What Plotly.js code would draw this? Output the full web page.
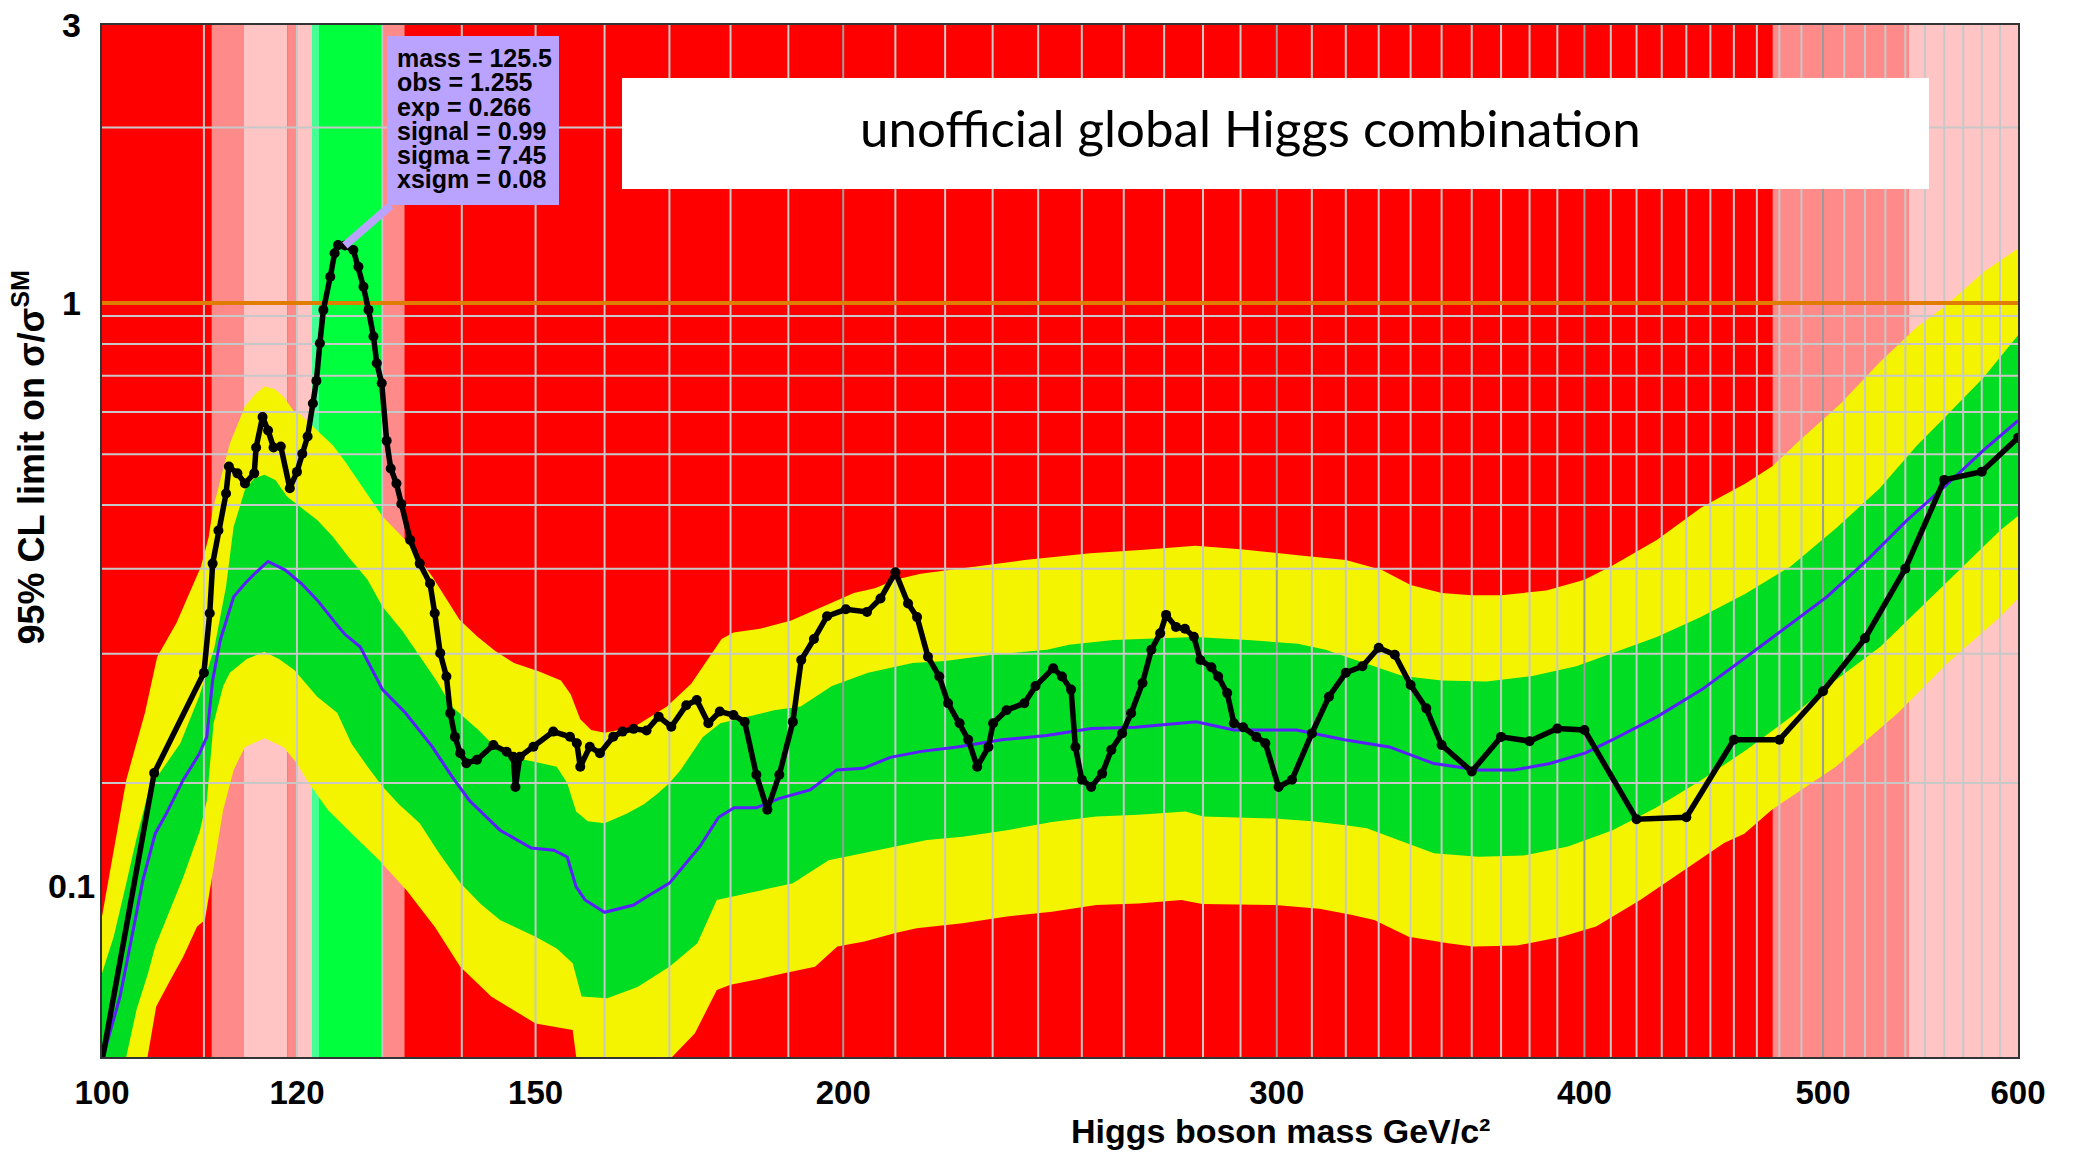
<!DOCTYPE html>
<html>
<head>
<meta charset="utf-8">
<script src="https://cdn.plot.ly/plotly-3.0.1.min.js"></script>
<style>
html,body{margin:0;padding:0;background:#ffffff;}
#chart{width:2074px;height:1152px;}
</style>
</head>
<body>
<div id="chart"></div>
<script>
// ---------------- DATA ----------------
// Observed 95% CL limit (black line with markers)
const obsMass = [100, 105, 110, 110.6, 110.9, 111.5, 112.3, 112.6, 113.5, 114.3, 115.3, 115.5, 116.2, 116.8, 117.4, 118.2, 119.2, 120, 120.6, 121.2, 121.8, 122.2, 122.6, 123, 123.8, 124.3, 124.7, 125.5, 126.5, 127.1, 127.7, 128.3, 128.9, 129.3, 129.9, 130.5, 131, 131.7, 132.3, 133.4, 134.6, 135.9, 136.5, 137.2, 138, 138.5, 139.1, 139.8, 140.6, 142, 144.2, 146, 146.9, 147.2, 147.8, 149.7, 152.5, 154.9, 155.9, 156.4, 157.8, 159.3, 161.3, 162.7, 164.4, 166.4, 168.3, 170.3, 172.7, 174.4, 176.3, 178.2, 180.5, 182.4, 184.4, 186.3, 188.4, 190.8, 192.3, 194.6, 197, 200.5, 204.5, 207.1, 210, 212.5, 214.3, 216.5, 218.8, 220.6, 223, 224.8, 226.7, 229.1, 230.1, 233, 236.9, 239.4, 243.4, 245.4, 247.5, 248.5, 250, 252.2, 254.8, 257, 259.6, 261.8, 264.6, 266.8, 269, 270.5, 273, 275.3, 277.6, 279.3, 282.2, 284, 286.4, 288.2, 290.7, 294.3, 296.8, 300.5, 304.3, 310, 315, 320, 325, 330, 335, 340, 345, 350, 360, 370, 380, 390, 400, 420, 440, 460, 480, 500, 520, 540, 560, 580, 600];
const obsVal = [0.05, 0.156, 0.232, 0.2935, 0.357, 0.407, 0.471, 0.524, 0.510, 0.490, 0.510, 0.565, 0.637, 0.604, 0.565, 0.567, 0.481, 0.513, 0.551, 0.590, 0.672, 0.735, 0.853, 0.973, 1.109, 1.217, 1.257, 1.255, 1.233, 1.154, 1.066, 0.973, 0.876, 0.788, 0.728, 0.58, 0.52, 0.49, 0.452, 0.392, 0.357, 0.330, 0.2935, 0.2506, 0.2285, 0.1977, 0.180, 0.1688, 0.1622, 0.1644, 0.1743, 0.1697, 0.1664, 0.1477, 0.1664, 0.1731, 0.1838, 0.1801, 0.1755, 0.160, 0.1731, 0.1688, 0.1801, 0.1838, 0.1858, 0.1846, 0.195, 0.1874, 0.204, 0.2083, 0.190, 0.199, 0.1962, 0.191, 0.155, 0.135, 0.155, 0.191, 0.244, 0.265, 0.29, 0.298, 0.295, 0.311, 0.345, 0.305, 0.289, 0.247, 0.2285, 0.2056, 0.190, 0.178, 0.160, 0.173, 0.190, 0.200, 0.2056, 0.220, 0.236, 0.2285, 0.217, 0.173, 0.152, 0.1477, 0.1557, 0.171, 0.1825, 0.1977, 0.2228, 0.254, 0.271, 0.2915, 0.278, 0.276, 0.2674, 0.244, 0.237, 0.2285, 0.214, 0.190, 0.187, 0.180, 0.1755, 0.1477, 0.152, 0.1825, 0.211, 0.232, 0.238, 0.256, 0.249, 0.221, 0.2015, 0.1743, 0.157, 0.180, 0.177, 0.186, 0.185, 0.130, 0.131, 0.178, 0.178, 0.2156, 0.2657, 0.350, 0.497, 0.5135, 0.587];

// Expected limit (blue line)
const expMass = [100, 101.7, 102.65, 103.3, 103.9, 105.1, 106.2, 107.9, 109.5, 110.3, 110.9, 111.7, 113.1, 114.3, 115.5, 116.8, 118.7, 120.5, 122.3, 124.6, 125.5, 127.3, 130, 132.8, 136.2, 138.7, 141, 145.1, 149.4, 152.6, 154.5, 155.8, 157.1, 160, 164.4, 166.5, 170, 174.9, 178, 180.6, 184.4, 188.3, 193.9, 198.8, 203.8, 209, 215.2, 222.5, 232, 241.9, 252.2, 262.9, 278.2, 288.2, 305.6, 319.6, 333.3, 347.5, 362.3, 374.6, 387.3, 400.5, 410.7, 428.2, 446.4, 465.5, 481.3, 501.8, 521, 540.9, 561.7, 580.7, 600];
const expVal = [0.05, 0.0645, 0.0786, 0.0896, 0.1022, 0.1228, 0.1329, 0.152, 0.168, 0.180, 0.225, 0.264, 0.313, 0.330, 0.345, 0.360, 0.348, 0.33, 0.309, 0.28, 0.27, 0.257, 0.217, 0.198, 0.173, 0.154, 0.14, 0.1245, 0.116, 0.115, 0.112, 0.0995, 0.0945, 0.090, 0.0926, 0.0958, 0.101, 0.1167, 0.131, 0.136, 0.136, 0.141, 0.146, 0.158, 0.159, 0.166, 0.170, 0.173, 0.178, 0.181, 0.186, 0.187, 0.191, 0.185, 0.185, 0.178, 0.173, 0.162, 0.158, 0.158, 0.162, 0.169, 0.178, 0.195, 0.217, 0.247, 0.274, 0.313, 0.362, 0.424, 0.489, 0.558, 0.628];

// +2 sigma edge of expected band
const plus2Mass = [100, 102.3, 104.1, 105.3, 107.2, 108.7, 109.7, 110.5, 110.9, 111.7, 112.7, 114.3, 115.5, 116.4, 117.5, 118.5, 119.7, 120.3, 122, 124.1, 125.5, 127.3, 128.5, 130, 132.8, 136.2, 139.7, 142, 144.4, 147, 150.5, 153.6, 155, 156.4, 158, 160, 164.4, 169.6, 173.5, 176.5, 178.5, 180.5, 185, 190.5, 197.5, 202, 206, 210, 215, 221, 227, 237, 252, 265, 278, 290, 306, 320, 331, 340, 350, 360, 370, 386, 400, 411, 428, 446, 465, 477, 489, 508, 527, 546, 561, 581, 600];
const plus2Val = [0.0885, 0.152, 0.198, 0.247, 0.282, 0.322, 0.353, 0.397, 0.441, 0.497, 0.574, 0.664, 0.70, 0.719, 0.712, 0.691, 0.65, 0.645, 0.61, 0.57, 0.535, 0.49, 0.46, 0.43, 0.392, 0.339, 0.286, 0.268, 0.253, 0.241, 0.233, 0.225, 0.213, 0.193, 0.185, 0.183, 0.187, 0.203, 0.222, 0.247, 0.265, 0.272, 0.276, 0.285, 0.305, 0.318, 0.324, 0.335, 0.343, 0.348, 0.353, 0.362, 0.372, 0.377, 0.383, 0.378, 0.369, 0.362, 0.348, 0.328, 0.318, 0.315, 0.315, 0.321, 0.335, 0.355, 0.392, 0.445, 0.49, 0.525, 0.58, 0.67, 0.79, 0.91, 0.99, 1.13, 1.24];

// +1 sigma edge
const plus1Mass = [100, 101.1, 102.3, 103.3, 104.4, 105.1, 107.6, 109.5, 110.3, 111.1, 112.3, 113.1, 114.3, 115.3, 116.4, 117.6, 118.9, 120.5, 122.3, 124.1, 125.9, 128.2, 130, 132.4, 134.3, 136.7, 138.7, 142.2, 144.8, 146.8, 150, 153, 154.5, 155.8, 157.5, 160, 163.4, 166, 168.2, 170, 171.8, 175.4, 178.3, 182.8, 187.5, 192.2, 197.9, 204.7, 213.4, 220, 230, 242, 247, 257.5, 268.5, 278, 292, 306, 314, 326, 337.5, 350, 365, 381, 397, 411, 428, 446, 465, 485, 506, 527, 546, 561, 581, 600];
const plus1Val = [0.0707, 0.0817, 0.101, 0.121, 0.144, 0.152, 0.1755, 0.211, 0.232, 0.257, 0.326, 0.413, 0.478, 0.50, 0.507, 0.497, 0.465, 0.445, 0.424, 0.397, 0.367, 0.335, 0.301, 0.274, 0.251, 0.225, 0.203, 0.185, 0.171, 0.166, 0.163, 0.160, 0.150, 0.134, 0.129, 0.128, 0.133, 0.138, 0.144, 0.150, 0.158, 0.180, 0.190, 0.195, 0.200, 0.203, 0.220, 0.232, 0.241, 0.243, 0.249, 0.254, 0.259, 0.264, 0.266, 0.267, 0.264, 0.26, 0.254, 0.241, 0.229, 0.225, 0.224, 0.229, 0.238, 0.251, 0.267, 0.289, 0.317, 0.353, 0.41, 0.48, 0.57, 0.64, 0.745, 0.88];

// -1 sigma edge
const minus1Mass = [100, 102.3, 103.3, 104.4, 105.1, 106.2, 107.9, 109.6, 110.3, 111, 112, 112.7, 114.5, 116.4, 118, 119.7, 122.3, 124.6, 126.3, 128.2, 130, 132, 134.6, 137, 139.8, 142.5, 145.1, 150, 153, 155.3, 156.6, 160.4, 165, 170, 174.5, 177.7, 180, 185.3, 190.8, 197.3, 204, 210, 216.3, 223.6, 233.1, 243.1, 253.4, 263.6, 275.5, 280, 299.5, 310, 320, 326.4, 336.1, 347.5, 362.3, 377.7, 393.9, 410.7, 428.2, 446.4, 465.5, 485.3, 506, 527.5, 550, 573.4, 590, 600];
const minus1Val = [0.042, 0.0509, 0.0614, 0.0707, 0.0786, 0.0873, 0.1035, 0.1245, 0.14, 0.19, 0.22, 0.232, 0.245, 0.252, 0.245, 0.2345, 0.211, 0.198, 0.175, 0.16, 0.148, 0.138, 0.128, 0.114, 0.101, 0.093, 0.0873, 0.0817, 0.078, 0.0736, 0.0645, 0.0641, 0.067, 0.0726, 0.0796, 0.0945, 0.0957, 0.0982, 0.1009, 0.1106, 0.1136, 0.1167, 0.1197, 0.1213, 0.1245, 0.1286, 0.1314, 0.1323, 0.1341, 0.1314, 0.1304, 0.129, 0.127, 0.1255, 0.1197, 0.1136, 0.1121, 0.1126, 0.1167, 0.1245, 0.1365, 0.152, 0.171, 0.195, 0.2254, 0.257, 0.305, 0.362, 0.407, 0.431];

// -2 sigma edge
const minus2Mass = [100, 104.3, 105.2, 106.6, 107.9, 109.3, 110.1, 110.8, 112, 113.1, 114.3, 116.4, 118.5, 120, 121.1, 123.5, 126.5, 129.6, 133, 136.5, 139.8, 143.9, 150, 155.3, 155.8, 157, 165, 170.5, 174.1, 177.7, 180, 185.3, 189.2, 194.8, 198.9, 204, 210, 214.2, 223.6, 233.1, 243.1, 253.4, 263.6, 274.4, 279.8, 299.5, 312.2, 321.6, 328.6, 339.4, 352.1, 360.4, 375.6, 391.6, 404.4, 421.4, 437.2, 455.8, 464.5, 476.5, 506, 536.4, 561.7, 590, 600];
const minus2Val = [0.035, 0.0502, 0.062, 0.0689, 0.0756, 0.0851, 0.0873, 0.1035, 0.135, 0.158, 0.173, 0.179, 0.173, 0.162, 0.152, 0.135, 0.122, 0.1106, 0.098, 0.085, 0.0726, 0.0645, 0.058, 0.0565, 0.0509, 0.046, 0.046, 0.0509, 0.0558, 0.0662, 0.0676, 0.0693, 0.0707, 0.0726, 0.0786, 0.0802, 0.0829, 0.0845, 0.0862, 0.0885, 0.0902, 0.0926, 0.0932, 0.0945, 0.093, 0.0926, 0.0913, 0.0891, 0.0873, 0.0817, 0.0796, 0.0786, 0.0789, 0.0817, 0.0851, 0.0945, 0.105, 0.1183, 0.1228, 0.1349, 0.16, 0.198, 0.241, 0.289, 0.311];

// Mass ranges shaded in the background (red elsewhere)
const zoneFrom  = [110.8, 114.2, 118.9, 120.0, 121.7, 122.5, 130.1, 477, 541.6];
const zoneTo    = [114.2, 118.9, 120.0, 121.7, 122.5, 130.1, 132.7, 541.6, 600];
const zoneKind  = ['weak', 'open', 'weak', 'open', 'edge', 'signal', 'weak', 'weak', 'open'];

// Axis ticks and grid values
const xTickVals = [100, 120, 150, 200, 300, 400, 500, 600];
const xTickText = ['100', '120', '150', '200', '300', '400', '500', '600'];
const yTickVals = [3, 1, 0.1];
const yTickText = ['3', '1', '0.1'];
const xGridMinor = [110, 120, 130, 140, 150, 160, 170, 180, 190, 210, 220, 230, 240, 250, 260, 270, 280, 290, 310, 320, 330, 340, 350, 360, 370, 380, 390, 410, 420, 430, 440, 450, 460, 470, 480, 490, 510, 520, 530, 540, 550, 560, 570, 580, 590];
const xGridMajor = [200, 300, 400, 500];
const yGrid = [2, 0.95, 0.85, 0.75, 0.65, 0.55, 0.45, 0.35, 0.25, 0.15];

const smLimit = 1;
const pointMass = 125.5, pointObs = 1.255;
const boxLines = ['mass = 125.5', 'obs = 1.255', 'exp = 0.266', 'signal = 0.99', 'sigma = 7.45', 'xsigm = 0.08'];

// ---------------- STYLE / GEOMETRY ----------------
const W = 2074, H = 1152, ML = 102, MR = 56, MT = 25, MB = 95;
const PW = W - ML - MR, PH = H - MT - MB;
const px = v => (v - ML) / PW;        // pixel x -> paper x
const py = v => (H - MB - v) / PH;    // pixel y -> paper y
const X_MIN = 100, X_MAX = 600, Y_MIN = 0.0508, Y_MAX = 3;
const zoneColor = {weak: '#ff8a8a', open: '#ffc4c4', edge: '#44ff94', signal: '#00ff3c'};
const FONT = 'Liberation Sans, Arial, sans-serif';
const LAV = '#b9a3ff';

function band(upM, upV, loM, loV, color) {
  return {x: upM.concat(loM.slice().reverse()), y: upV.concat(loV.slice().reverse()),
    type: 'scatter', mode: 'lines', fill: 'toself', fillcolor: color,
    line: {width: 0, color: color}, hoverinfo: 'skip', showlegend: false};
}
function vgrid(vals, color) {
  const x = [], y = [];
  vals.forEach(v => { x.push(v, v, null); y.push(Y_MIN, Y_MAX, null); });
  return {x, y, type: 'scatter', mode: 'lines', line: {color, width: 2}, hoverinfo: 'skip', showlegend: false};
}
function hgrid(vals, color) {
  const x = [], y = [];
  vals.forEach(v => { x.push(X_MIN, X_MAX, null); y.push(v, v, null); });
  return {x, y, type: 'scatter', mode: 'lines', line: {color, width: 2}, hoverinfo: 'skip', showlegend: false};
}

const traces = [
  band(plus2Mass, plus2Val, minus2Mass, minus2Val, '#f4f400'),
  band(plus1Mass, plus1Val, minus1Mass, minus1Val, '#00dd22'),
  vgrid(xGridMinor, '#c8c8c8'),
  vgrid(xGridMajor, '#9c9c9c'),
  hgrid(yGrid, '#c8c8c8'),
  {x: [X_MIN, X_MAX], y: [smLimit, smLimit], type: 'scatter', mode: 'lines',
   line: {color: '#e07c00', width: 4}, hoverinfo: 'skip', showlegend: false},
  {x: expMass, y: expVal, type: 'scatter', mode: 'lines',
   line: {color: '#5a1eff', width: 3}, hoverinfo: 'skip', showlegend: false},
  {x: obsMass, y: obsVal, type: 'scatter', mode: 'lines+markers',
   line: {color: '#000000', width: 5.5}, marker: {color: '#000000', size: 10},
   hoverinfo: 'skip', showlegend: false}
];

const shapes = [];
zoneFrom.forEach((f, i) => {
  shapes.push({type: 'rect', xref: 'x', yref: 'paper', x0: f, x1: zoneTo[i], y0: 0, y1: 1,
    fillcolor: zoneColor[zoneKind[i]], line: {width: 0}, layer: 'below'});
});
shapes.push({type: 'rect', xref: 'paper', yref: 'paper', x0: px(622), x1: px(1929), y0: py(189), y1: py(78),
  fillcolor: '#ffffff', line: {width: 0}, layer: 'above'});
shapes.push({type: 'line', xref: 'x', yref: 'y', x0: pointMass, y0: pointObs, x1: 131, y1: 1.47,
  line: {color: LAV, width: 8}, layer: 'above'});
shapes.push({type: 'rect', xref: 'paper', yref: 'paper', x0: px(387), x1: px(559), y0: py(205), y1: py(36),
  fillcolor: LAV, line: {width: 0}, layer: 'above'});

const annotations = [];
annotations.push({xref: 'paper', yref: 'paper', x: px(1250), y: py(128), xanchor: 'center', yanchor: 'middle',
  text: 'unofficial global Higgs combination', showarrow: false,
  font: {family: 'Lato, Liberation Sans, sans-serif', size: 51, color: '#000'}});
boxLines.forEach((t, i) => {
  annotations.push({xref: 'paper', yref: 'paper', x: px(395), y: py(58.3 + 24.1 * i), xanchor: 'left', yanchor: 'middle',
    text: '<b>' + t + '</b>', showarrow: false, font: {family: FONT, size: 25, color: '#000'}});
});
annotations.push({xref: 'paper', yref: 'paper', x: px(1280), y: py(1131), xanchor: 'center', yanchor: 'middle',
  text: '<b>Higgs boson mass GeV/c²</b>', showarrow: false, font: {family: FONT, size: 34, color: '#000'}});
annotations.push({xref: 'paper', yref: 'paper', x: px(29), y: py(457.5), xanchor: 'center', yanchor: 'middle',
  textangle: -90, text: '<b>95% CL limit on σ/σ<sup>SM</sup></b>', showarrow: false,
  font: {family: FONT, size: 36, color: '#000'}});
yTickVals.forEach((v, i) => {
  annotations.push({xref: 'paper', yref: 'y', x: px(71), y: Math.log10(v), xanchor: 'center', yanchor: 'middle',
    text: '<b>' + yTickText[i] + '</b>', showarrow: false, font: {family: FONT, size: 34, color: '#000'}});
});

const layout = {
  width: W, height: H,
  margin: {l: ML, r: MR, t: MT, b: MB, pad: 0},
  paper_bgcolor: '#ffffff', plot_bgcolor: '#ff0000',
  showlegend: false, hovermode: false,
  font: {family: FONT, color: '#000'},
  xaxis: {type: 'log', range: [Math.log10(X_MIN), Math.log10(X_MAX)], tickvals: xTickVals, ticktext: xTickText,
    tickfont: {family: FONT, size: 33, color: '#000', weight: 'bold'},
    ticks: 'outside', ticklen: 5, tickcolor: 'rgba(0,0,0,0)',
    showgrid: false, zeroline: false, showline: true, mirror: true, linecolor: '#333', linewidth: 2,
    automargin: false, fixedrange: true},
  yaxis: {type: 'log', range: [Math.log10(Y_MIN), Math.log10(Y_MAX)], showticklabels: false, ticks: '',
    showgrid: false, zeroline: false, showline: true, mirror: true, linecolor: '#333', linewidth: 2,
    automargin: false, fixedrange: true},
  shapes: shapes,
  annotations: annotations
};

Plotly.newPlot('chart', traces, layout, {displayModeBar: false, staticPlot: true});
</script>
</body>
</html>
